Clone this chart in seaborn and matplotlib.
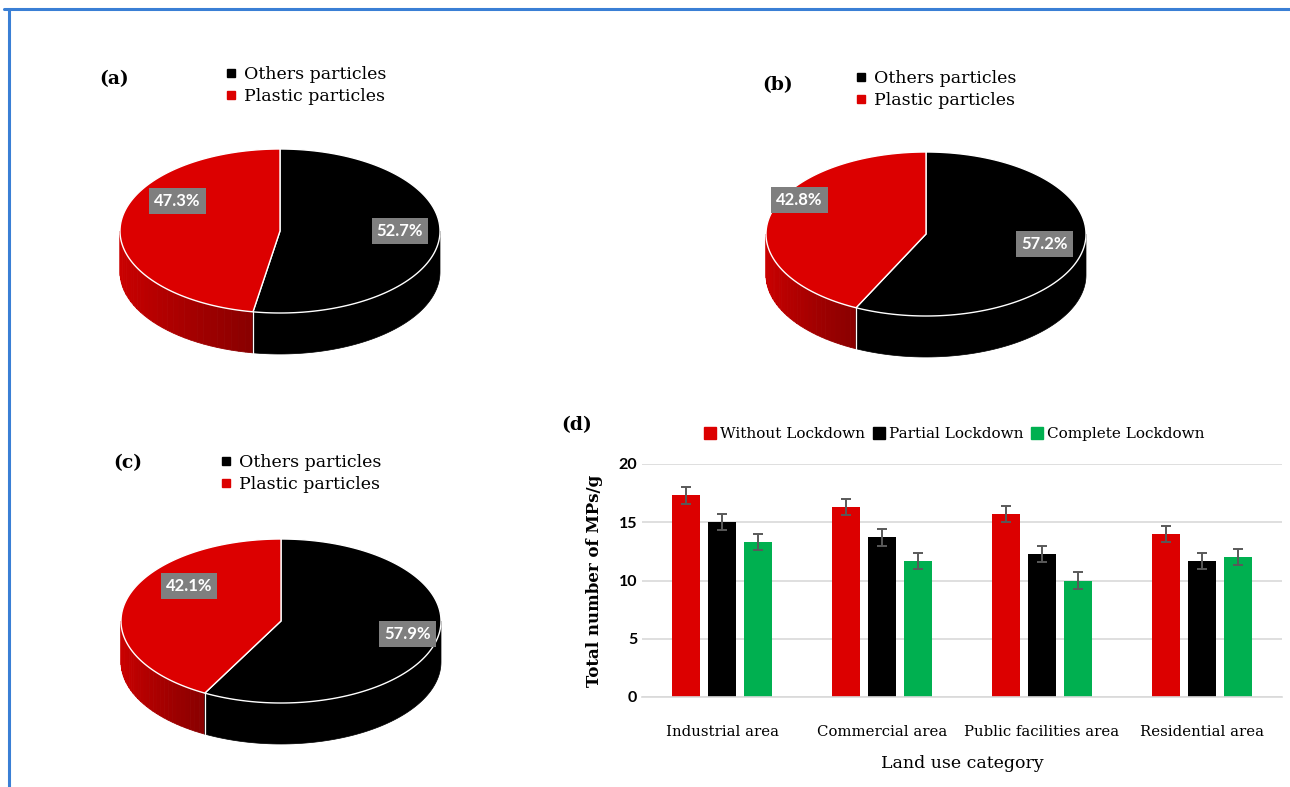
import numpy as np
import pandas as pd
import seaborn as sns
import matplotlib.pyplot as plt
from matplotlib.patches import Polygon
from matplotlib.lines import Line2D

# pie data (a), (b), (c)
pie_names = ["(a)", "(b)", "(c)"]
others_pct = [52.7, 57.2, 57.9]
plastic_pct = [47.3, 42.8, 42.1]
pie_legend = ["Others particles", "Plastic particles"]

# bar data (d)
areas = ["Industrial area", "Commercial area", "Public facilities area", "Residential area"]
conditions = ["Without Lockdown", "Partial Lockdown", "Complete Lockdown"]
without_lock = [17.3, 16.3, 15.7, 14.0]
partial_lock = [15.0, 13.7, 12.3, 11.7]
complete_lock = [13.3, 11.7, 10.0, 12.0]
without_err = [0.7, 0.7, 0.7, 0.7]
partial_err = [0.7, 0.7, 0.7, 0.7]
complete_err = [0.7, 0.7, 0.7, 0.7]

RED = "#dc0000"
GREEN = "#00b050"
W, H = 1290, 787
SERIF = "DejaVu Serif"

sns.set_style("white")
plt.rcParams["font.family"] = ["DejaVu Serif", "DejaVu Sans"]
plt.rcParams.update({"text.color": "black", "axes.labelcolor": "black",
                     "xtick.color": "black", "ytick.color": "black"})

fig = plt.figure(figsize=(W / 100, H / 100), dpi=100)
fig.patch.set_facecolor("white")

# blue frame
fig.add_artist(Line2D([4 / W, 1], [1 - 9 / H, 1 - 9 / H], color="#3a7fd5", lw=2.2,
                      transform=fig.transFigure))
fig.add_artist(Line2D([9 / W, 9 / W], [0, 1 - 9 / H], color="#3a7fd5", lw=2.2,
                      transform=fig.transFigure))


def ell(th, b, dy=0.0):
    t = np.radians(th)
    return np.column_stack([np.cos(t), b * np.sin(t) + dy])


def draw_pie(cx, cy, others, plastic, lab_red, lab_blk):
    u, b, d = 160.0, 82 / 160, 41 / 160
    left, right, up, down = 175, 175, 97, 138
    ax = fig.add_axes([(cx - left) / W, 1 - (cy + down) / H, (left + right) / W, (up + down) / H])
    ax.set_xlim(-left / u, right / u)
    ax.set_ylim(-down / u, up / u)
    ax.axis("off")

    th_div = 90 - 360 * others / 100 + 360   # front dividing angle
    # red side with shading
    n = 30
    edges = np.linspace(180, th_div, n + 1)
    for i in range(n):
        th = np.linspace(edges[i], edges[i + 1], 6)
        pts = np.vstack([ell(th, b), ell(th[::-1], b, -d)])
        f = i / (n - 1)
        col = (0.80 - 0.26 * f ** 1.5, 0, 0)
        ax.add_patch(Polygon(pts, closed=True, fc=col, ec=col, lw=0.6))
    # black side
    th = np.linspace(th_div, 360, 80)
    pts = np.vstack([ell(th, b), ell(th[::-1], b, -d)])
    ax.add_patch(Polygon(pts, closed=True, fc="black", ec="black", lw=0.5))
    p = ell(np.array([th_div]), b)[0]
    ax.plot([p[0], p[0]], [p[1], p[1] - d], color="white", lw=0.9)

    # tops
    th = np.linspace(90 - 360 * others / 100, 90, 200)
    ax.add_patch(Polygon(np.vstack([[0, 0], ell(th, b)]), closed=True, fc="black", ec="white", lw=1.0))
    th = np.linspace(90, 90 + 360 * plastic / 100, 200)
    ax.add_patch(Polygon(np.vstack([[0, 0], ell(th, b)]), closed=True, fc=RED, ec="white", lw=1.0))

    box = dict(boxstyle="square,pad=0.3", fc="#7f7f7f", ec="none")
    ax.text(lab_red[0], lab_red[1], f"{plastic}%", ha="center", va="center", color="white",
            fontsize=12, fontweight="bold", family=["Lato", "DejaVu Sans"], bbox=box)
    ax.text(lab_blk[0], lab_blk[1], f"{others}%", ha="center", va="center", color="white",
            fontsize=12, fontweight="bold", family=["Lato", "DejaVu Sans"], bbox=box)


def pie_legend_at(x, y, name, nx, ny):
    fig.text(nx / W, 1 - ny / H, name, fontsize=13.5, fontweight="bold", family=SERIF,
             ha="left", va="center")
    handles = [Line2D([], [], marker="s", ls="", color="black", markersize=6),
               Line2D([], [], marker="s", ls="", color=RED, markersize=6)]
    fig.legend(handles=handles, labels=pie_legend, loc="upper left",
               bbox_to_anchor=(x / W, 1 - y / H), frameon=False, handlelength=0.6,
               handletextpad=0.45, labelspacing=0.3, borderpad=0, borderaxespad=0,
               prop={"family": SERIF, "size": 12.5})


pie_centers = [(280, 231), (926, 234), (281, 621)]
label_red = [(-0.64, 0.19), (-0.79, 0.21), (-0.575, 0.22)]
label_blk = [(0.75, 0.0), (0.74, -0.06), (0.79, -0.08)]
legend_xy = [(226, 66), (856, 70), (221, 454)]
name_xy = [(99, 79), (762, 85), (113, 463)]

for i in range(3):
    cx, cy = pie_centers[i]
    draw_pie(cx, cy, others_pct[i], plastic_pct[i], label_red[i], label_blk[i])
    pie_legend_at(legend_xy[i][0], legend_xy[i][1], pie_names[i], name_xy[i][0], name_xy[i][1])

# bar chart (d)
df = pd.DataFrame({
    "area": areas * 3,
    "condition": [c for c in conditions for _ in areas],
    "value": without_lock + partial_lock + complete_lock,
})
errs = [without_err, partial_err, complete_err]

axb = fig.add_axes([642 / W, 1 - 697 / H, 640 / W, 233 / H])
sns.barplot(data=df, x="area", y="value", hue="condition", order=areas, hue_order=conditions,
            palette=[RED, "black", GREEN], width=0.675, gap=0.22, legend=False,
            saturation=1, linewidth=0, ax=axb)
for cont, e in zip(axb.containers, errs):
    xs = [p.get_x() + p.get_width() / 2 for p in cont]
    hs = [p.get_height() for p in cont]
    axb.errorbar(xs, hs, yerr=e, fmt="none", ecolor="#595959", elinewidth=1.4,
                 capsize=3.5, capthick=1.4)

axb.set_xlim(-0.5, 3.5)
axb.set_ylim(0, 20)
axb.set_yticks([0, 5, 10, 15, 20])
axb.yaxis.grid(True, color="#d9d9d9", lw=1.2)
axb.set_axisbelow(True)
for s in ["top", "right", "left"]:
    axb.spines[s].set_visible(False)
axb.spines["bottom"].set_color("#d9d9d9")
axb.spines["bottom"].set_linewidth(1.2)
axb.tick_params(axis="both", length=0)
axb.tick_params(axis="x", pad=20)
for t in axb.get_yticklabels():
    t.set_family(["Lato", "DejaVu Sans"])
    t.set_fontweight("bold")
    t.set_fontsize(11.5)
for t in axb.get_xticklabels():
    t.set_family(SERIF)
    t.set_fontsize(10.7)
axb.set_xlabel("Land use category", family=SERIF, fontsize=12.5, labelpad=12)
axb.set_ylabel("Total number of MPs/g", family=SERIF, fontsize=12, fontweight="bold",
               labelpad=11)

fig.text(561 / W, 1 - 425 / H, "(d)", fontsize=13.5, fontweight="bold", family=SERIF,
         ha="left", va="center")
bh = [Line2D([], [], marker="s", ls="", color=c, markersize=8) for c in [RED, "black", GREEN]]
fig.legend(handles=bh, labels=conditions, loc="center", ncol=3,
           bbox_to_anchor=(955 / W, 1 - 434 / H), frameon=False, handlelength=0.6,
           handletextpad=0.35, columnspacing=0.6, borderpad=0,
           prop={"family": SERIF, "size": 11})

fig.savefig("out.png", dpi=100, facecolor="white")
